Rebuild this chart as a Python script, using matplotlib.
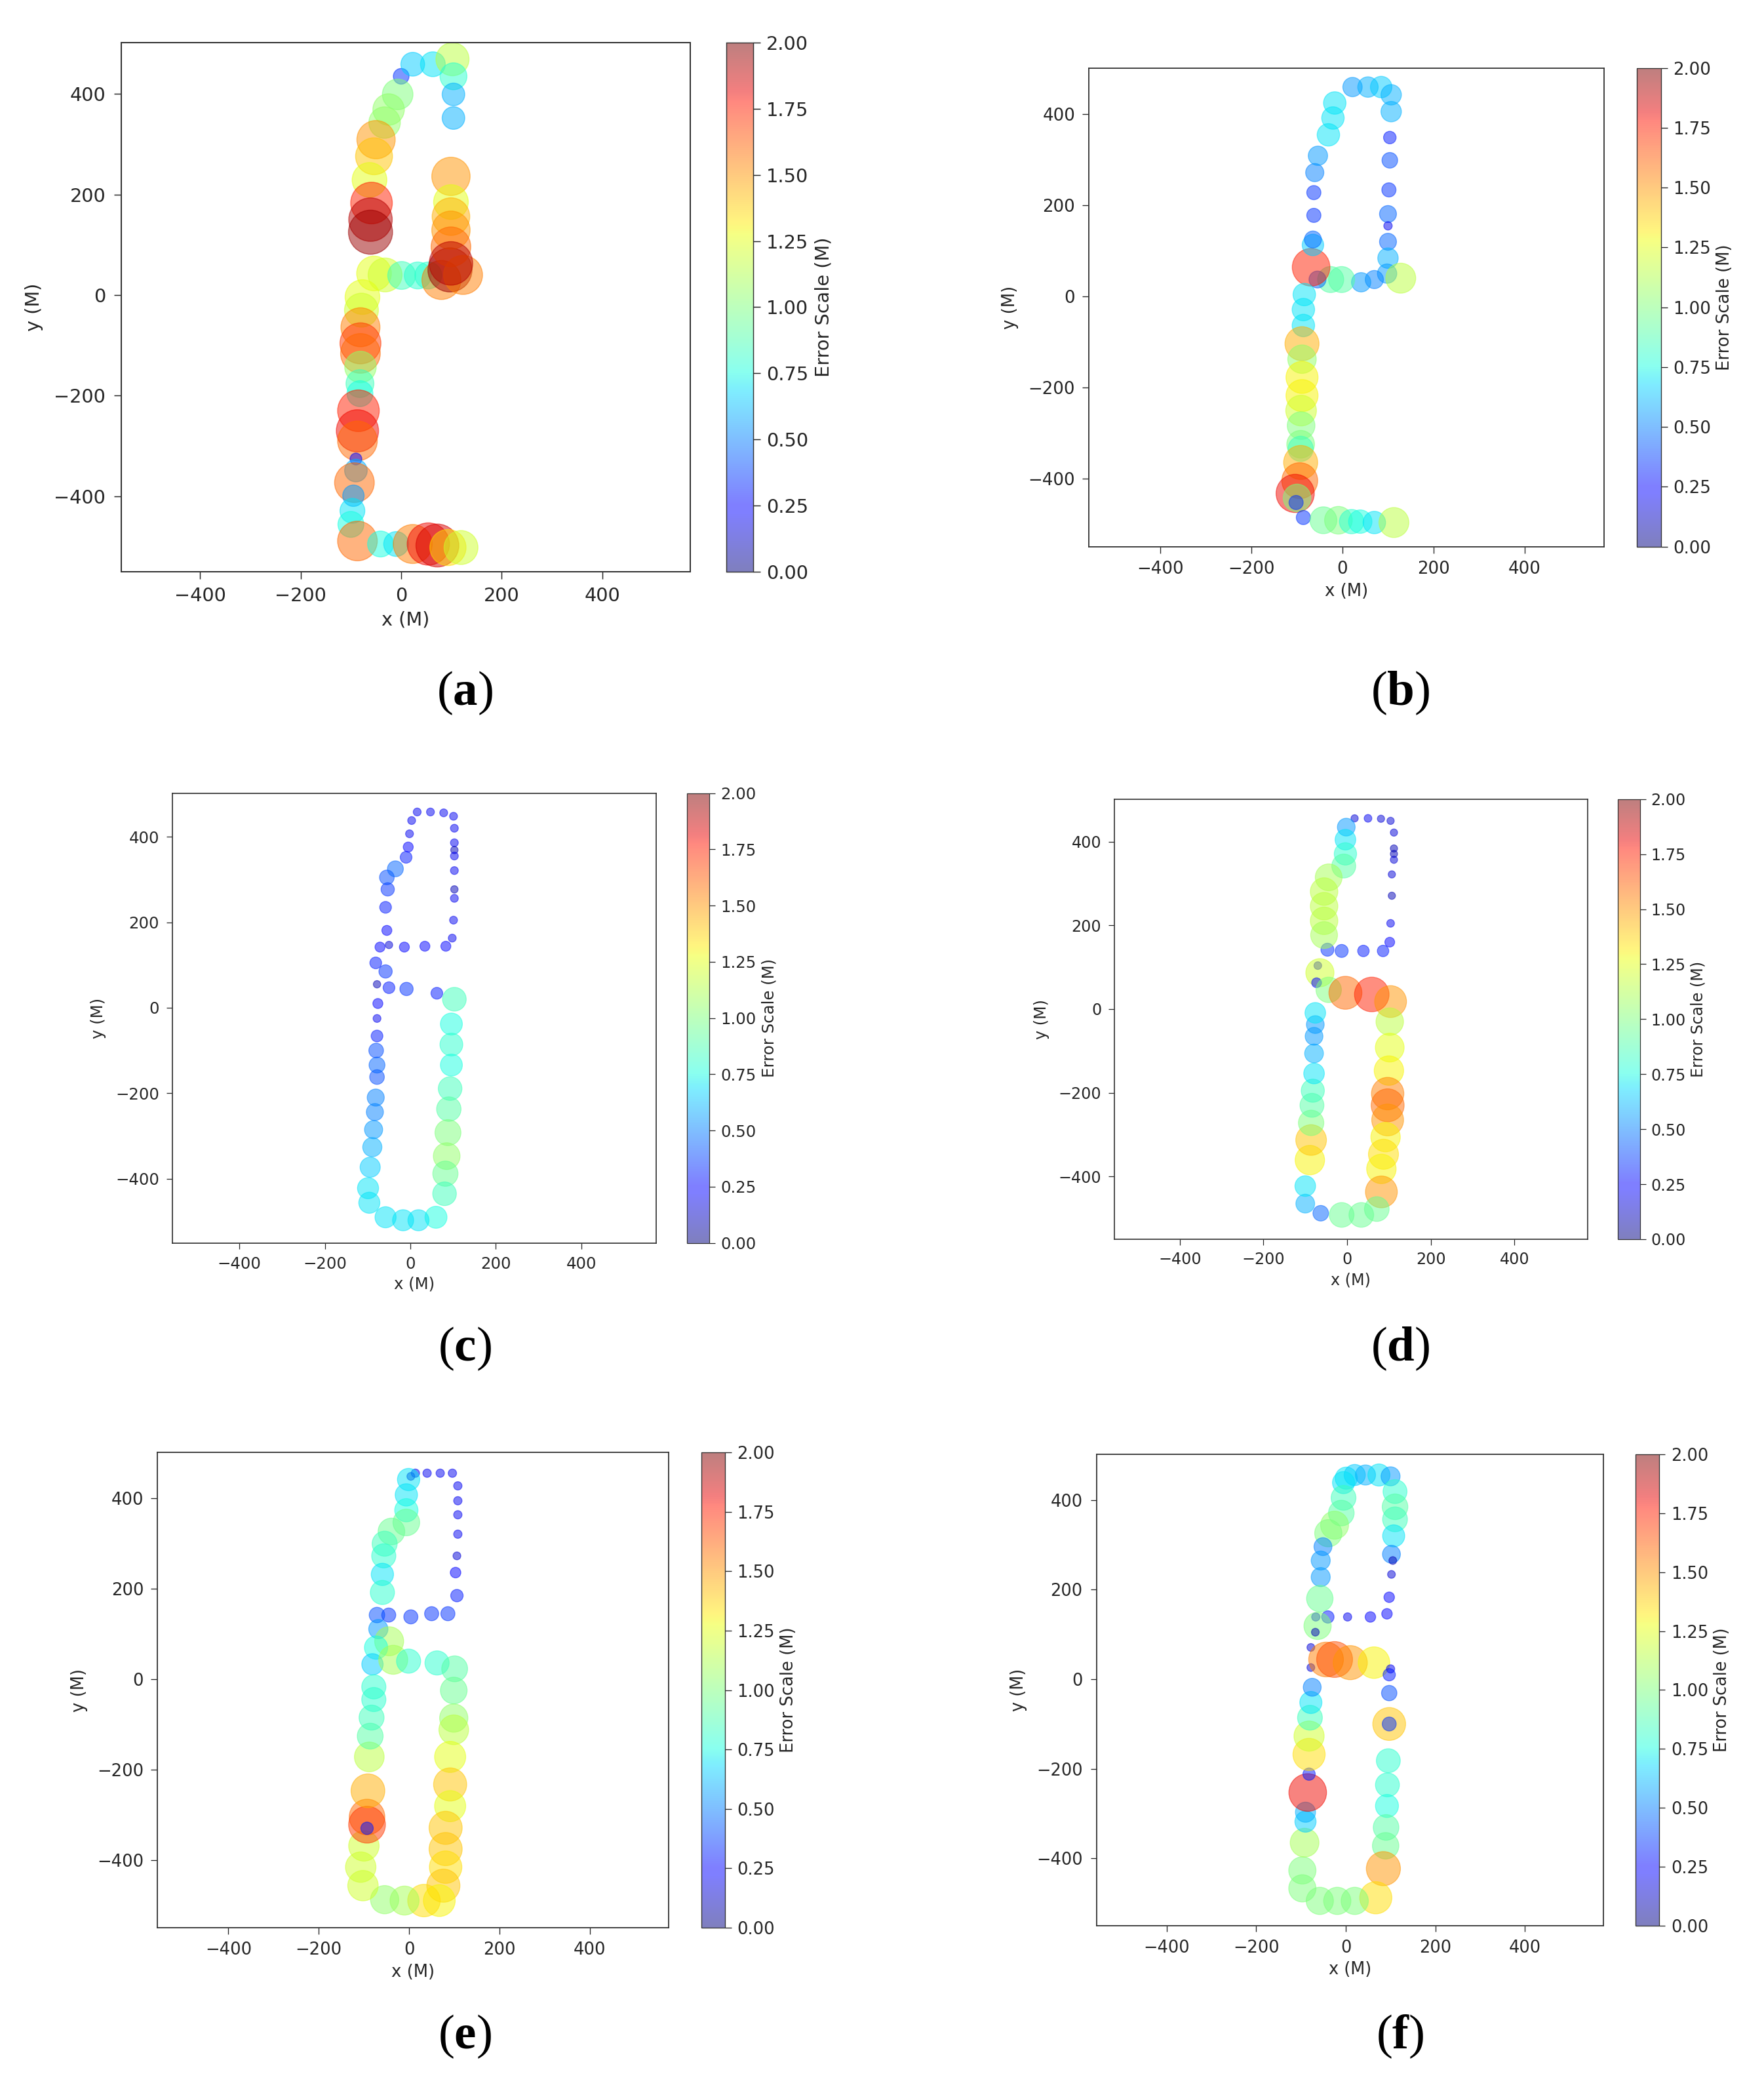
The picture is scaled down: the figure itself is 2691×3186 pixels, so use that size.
import numpy as np
import matplotlib.pyplot as plt

plt.rcParams['mathtext.fontset'] = 'custom'
plt.rcParams['mathtext.rm'] = 'Liberation Serif'
plt.rcParams['mathtext.bf'] = 'Liberation Serif:bold'

# --------------------- data ---------------------
# panel (a)
xa = [0, 23, 63, 102, 104, 104, 104, -7, -25, -33, -50, -54, -63, -59, -61, -61,
      -54, -32, 1, 33, 54, 80, 97, 123, 99, 99, 99, 99, 99, 99,
      -77, -79, -81, -81, -81, -81, -82, -82, -85, -87, -87, -90, -90, -93, -95,
      -97, -100, -87, -41, -10, 23, 54, 72, 93, 119]
ya = [435, 459, 459, 469, 435, 399, 352, 399, 369, 343, 309, 276, 229, 183, 150, 125,
      43, 40, 39, 39, 39, 30, 50, 40, 236, 185, 156, 129, 96, 63,
      -4, -30, -64, -96, -116, -143, -176, -196, -230, -270, -290, -326, -349, -373, -399,
      -429, -456, -489, -495, -495, -495, -495, -498, -502, -502]
ea = [0.35, 0.65, 0.7, 1.15, 0.8, 0.6, 0.6, 1.0, 1.05, 1.05, 1.5, 1.4, 1.25, 1.75, 1.9, 1.95,
      1.25, 1.2, 0.85, 0.8, 0.8, 1.55, 1.95, 1.55, 1.5, 1.25, 1.45, 1.5, 1.6, 1.9,
      1.25, 1.2, 1.55, 1.7, 1.6, 1.05, 0.85, 0.75, 1.75, 1.8, 1.6, 0.25, 0.6, 1.6, 0.55,
      0.7, 0.75, 1.6, 0.75, 0.7, 1.55, 1.8, 1.85, 1.35, 1.2]

# panel (b)
xb = [22, 56, 85, 107, 107, 104, 104, 102, 100, 100, 100, 100, 98, 128, 70, 41, -2, -26,
      -55, -69, -65, -65, -63, -63, -61, -54, -31, -21, -17,
      -84, -86, -86, -89, -89, -89, -89, -91, -91, -92, -92, -92, -94, -104, -100, -102, -86,
      -42, -9, 20, 39, 70, 113]
yb = [460, 460, 460, 443, 406, 349, 299, 234, 181, 155, 120, 84, 50, 40, 37, 31, 37, 37,
      37, 64, 113, 125, 178, 228, 272, 309, 355, 392, 425,
      4, -29, -64, -104, -138, -178, -218, -251, -284, -325, -335, -365, -405, -433, -443, -453, -486,
      -492, -492, -495, -495, -497, -497]
eb = [0.55, 0.6, 0.65, 0.6, 0.6, 0.3, 0.4, 0.35, 0.45, 0.2, 0.45, 0.6, 0.55, 1.15, 0.5, 0.55, 0.9, 0.9,
      0.45, 1.75, 0.65, 0.45, 0.35, 0.35, 0.5, 0.55, 0.7, 0.7, 0.7,
      0.7, 0.7, 0.7, 1.45, 1.05, 1.3, 1.3, 1.2, 1.0, 1.0, 0.85, 1.45, 1.6, 1.8, 1.0, 0.35, 0.35,
      0.95, 1.0, 0.8, 0.75, 0.7, 1.15]

# panel (c)
xc = [16, 47, 78, 101, 103, 103, 103, 103, 103, 103, 103, 101, 98, 83, 34, -14, -50, -71,
      -55, -58, -53, -55, -35, -10, -5, -2, 3,
      -81, -58, -78, -50, -9, 62,
      103, 96, 96, 96, 93, 90, 88, 85, 82, 80,
      60, 19, -17, -58, -96,
      -99, -94, -89, -86, -83, -81, -78, -78, -80, -78, -78, -76]
yc = [458, 458, 456, 448, 420, 386, 369, 355, 321, 277, 256, 205, 163, 144, 144, 142, 147, 142,
      181, 235, 277, 305, 325, 352, 376, 407, 438,
      105, 85, 55, 47, 44, 34,
      20, -38, -86, -134, -189, -237, -292, -347, -388, -435,
      -490, -497, -497, -490, -456,
      -422, -373, -326, -285, -244, -210, -162, -134, -100, -66, -25, 10]
ec = [0.2, 0.2, 0.2, 0.2, 0.2, 0.2, 0.1, 0.2, 0.2, 0.1, 0.2, 0.2, 0.2, 0.25, 0.25, 0.25, 0.15, 0.25,
      0.25, 0.3, 0.35, 0.4, 0.45, 0.3, 0.25, 0.2, 0.2,
      0.3, 0.35, 0.1, 0.3, 0.35, 0.3,
      0.85, 0.75, 0.8, 0.75, 0.85, 0.9, 1.0, 1.05, 0.95, 0.85,
      0.75, 0.7, 0.7, 0.7, 0.7,
      0.7, 0.65, 0.6, 0.55, 0.5, 0.5, 0.4, 0.45, 0.4, 0.3, 0.2, 0.25]

# panel (d)
xd = [18, 50, 81, 104, 112, 112, 112, 112, 107, 107, 104, 102, 86, 39, -13, -47,
      -2, -4, -4, -8, -44, -55, -55, -55, -55,
      -70, -65, -73, -44, -4, 59, 104,
      102, 102, 100, 97, 97, 97, 92, 87, 82, 82, 71,
      34, -13, -63, -100,
      -100, -89, -86, -86, -84, -82, -79, -79, -79, -76, -76]
yd = [456, 456, 455, 450, 422, 384, 371, 357, 322, 271, 205, 160, 139, 139, 139, 142,
      435, 405, 371, 342, 315, 281, 246, 211, 177,
      104, 87, 63, 46, 39, 35, 18,
      -30, -92, -147, -202, -230, -265, -306, -347, -382, -437, -478,
      -492, -492, -488, -465,
      -423, -361, -313, -272, -230, -195, -154, -106, -65, -37, -9]
ed = [0.15, 0.2, 0.15, 0.15, 0.15, 0.1, 0.1, 0.15, 0.15, 0.1, 0.2, 0.25, 0.3, 0.3, 0.35, 0.35,
      0.55, 0.7, 0.8, 0.9, 1.1, 1.15, 1.15, 1.15, 1.1,
      0.2, 1.2, 0.25, 1.0, 1.6, 1.75, 1.5,
      1.15, 1.25, 1.3, 1.55, 1.6, 1.5, 1.3, 1.35, 1.3, 1.5, 0.95,
      0.95, 0.95, 0.45, 0.6,
      0.7, 1.3, 1.4, 1.0, 0.9, 0.85, 0.7, 0.6, 0.55, 0.55, 0.7]

# panel (e)
xe = [4, 14, 40, 69, 96, 108, 108, 108, 108, 106, 103, 106, 86, 50, 4, -45, -71,
      -1, -6, -6, -6, -39, -54, -56, -59, -59,
      -68, -44, -73, -81, -35, -1, 62,
      101, 99, 99, 99, 91, 91, 91, 81, 81, 81, 76, 67,
      33, -10, -54, -102,
      -107, -100, -93, -93, -93, -91, -88, -86, -83, -78, -78]
ye = [449, 456, 456, 456, 456, 428, 395, 364, 321, 273, 236, 185, 145, 145, 138, 142, 142,
      442, 408, 374, 347, 327, 300, 273, 232, 192,
      111, 84, 70, 33, 43, 40, 36,
      23, -25, -86, -112, -172, -233, -281, -329, -376, -416, -457, -490,
      -490, -490, -488, -457,
      -416, -369, -305, -322, -330, -247, -172, -126, -85, -45, -17]
ee = [0.15, 0.2, 0.2, 0.2, 0.2, 0.2, 0.2, 0.2, 0.2, 0.15, 0.25, 0.3, 0.35, 0.35, 0.35, 0.35, 0.4,
      0.7, 0.7, 0.75, 0.95, 0.95, 0.85, 0.8, 0.7, 0.8,
      0.55, 1.1, 0.75, 0.65, 1.1, 0.8, 0.8,
      0.9, 0.95, 1.05, 1.15, 1.25, 1.4, 1.25, 1.4, 1.4, 1.35, 1.4, 1.3,
      1.35, 1.1, 1.05, 1.2,
      1.2, 1.2, 1.6, 1.7, 0.3, 1.45, 1.15, 0.9, 0.85, 0.8, 0.8]

# panel (f)
xf = [1, 20, 44, 74, 100, 110, 110, 110, 107, 102, 105, 102, 97, 92, 55, 4, -40, -67,
      -5, -5, -10, -25, -39, -51, -56, -56, -58,
      -63, -68, -78, -78, -44, -25, 10, 63,
      100, 97, 97, 97, 97, 95, 93, 92, 90, 89, 84, 67,
      20, -19, -58, -97,
      -97, -92, -90, -90, -85, -82, -82, -82, -80, -78, -75]
yf = [449, 456, 456, 456, 453, 419, 385, 357, 320, 279, 265, 234, 183, 146, 139, 139, 139, 139,
      439, 405, 371, 344, 326, 296, 265, 228, 180,
      119, 105, 71, 26, 44, 44, 37, 37,
      23, 10, -31, -100, -100, -182, -236, -283, -331, -372, -423, -488,
      -495, -495, -495, -467,
      -427, -365, -318, -297, -253, -212, -168, -127, -86, -52, -18]
ef = [0.7, 0.65, 0.6, 0.7, 0.55, 0.8, 0.9, 0.85, 0.7, 0.5, 0.1, 0.15, 0.25, 0.25, 0.25, 0.2, 0.3, 0.2,
      0.7, 0.85, 0.9, 1.05, 1.0, 0.5, 0.55, 0.55, 0.95,
      1.0, 0.1, 0.15, 0.15, 1.55, 1.65, 1.5, 1.3,
      0.2, 0.3, 0.4, 1.4, 0.35, 0.8, 0.8, 0.75, 0.9, 0.95, 1.5, 1.35,
      1.0, 1.0, 1.0, 1.0,
      1.0, 1.1, 0.65, 0.6, 1.8, 0.3, 1.35, 1.2, 0.85, 0.7, 0.5]

cb_ticks = [0.0, 0.25, 0.5, 0.75, 1.0, 1.25, 1.5, 1.75, 2.0]
axis_ticks = [-400, -200, 0, 200, 400]

# --------------------- layout (pixels of the 2691x3186 canvas) ---------------------
W, H, DPI = 2691, 3186, 100
XLIM = (-557, 575)
YLIM = (-550, 502)
TXT = '#262626'

# name, x, y, err, data-origin px (x0, y0), px per data unit, label centre px
panels = [
    ('a', xa, ya, ea, 612, 450, 0.767, 709, 1057),
    ('b', xb, yb, eb, 2048, 452, 0.694, 2136, 1057),
    ('c', xc, yc, ec, 626, 1537, 0.652, 709, 2057),
    ('d', xd, yd, ed, 2055, 1539, 0.638, 2136, 2057),
    ('e', xe, ye, ee, 624, 2561, 0.689, 709, 3106),
    ('f', xf, yf, ef, 2053, 2561, 0.683, 2136, 3106),
]

fig = plt.figure(figsize=(W / DPI, H / DPI), dpi=DPI)

for name, x, y, err, x0, y0, s, lx, ly in panels:
    left = x0 + XLIM[0] * s
    right = x0 + XLIM[1] * s
    top = y0 - YLIM[1] * s
    bottom = y0 - YLIM[0] * s
    ax = fig.add_axes([left / W, 1 - bottom / H, (right - left) / W, (bottom - top) / H])

    err = np.asarray(err, dtype=float)
    diam = np.sqrt(np.clip(4200 * err - 500, 300, None))     # marker diameter, data units
    size = (diam * s * 72 / DPI) ** 2

    fs = 27 * s
    sc = ax.scatter(x, y, c=err, s=size, cmap='jet', vmin=0, vmax=2,
                    alpha=0.5, linewidths=1.4 * s)
    ax.set_xlim(XLIM)
    ax.set_ylim(YLIM)
    ax.set_xticks(axis_ticks)
    ax.set_yticks(axis_ticks)
    ax.set_xlabel('x (M)', fontsize=fs, color=TXT, labelpad=8 * s)
    ax.set_ylabel('y (M)', fontsize=fs, color=TXT, labelpad=15 * s)
    ax.tick_params(labelsize=fs, length=10 * s, width=1.4 * s, colors=TXT, pad=12 * s)
    for sp in ax.spines.values():
        sp.set_linewidth(1.9 * s)
        sp.set_color('#333333')

    cax = fig.add_axes([(right + 72 * s) / W, 1 - bottom / H, 53 * s / W, (bottom - top) / H])
    cb = fig.colorbar(sc, cax=cax)
    cb.set_ticks(cb_ticks)
    cb.ax.yaxis.set_major_formatter('{x:.2f}')
    cb.ax.tick_params(labelsize=fs, length=10 * s, width=1.4 * s, colors=TXT, pad=9 * s)
    cb.set_label('Error Scale (M)', fontsize=fs, color=TXT, labelpad=8 * s)
    cb.outline.set_linewidth(1.4 * s)
    cb.outline.set_edgecolor('#333333')

    fig.text(lx / W, 1 - ly / H, '(' + r'$\mathbf{' + name + '}$' + ')',
             ha='center', va='center', fontsize=54, family='Liberation Serif', color='black')

fig.savefig('out.png', dpi=DPI)
